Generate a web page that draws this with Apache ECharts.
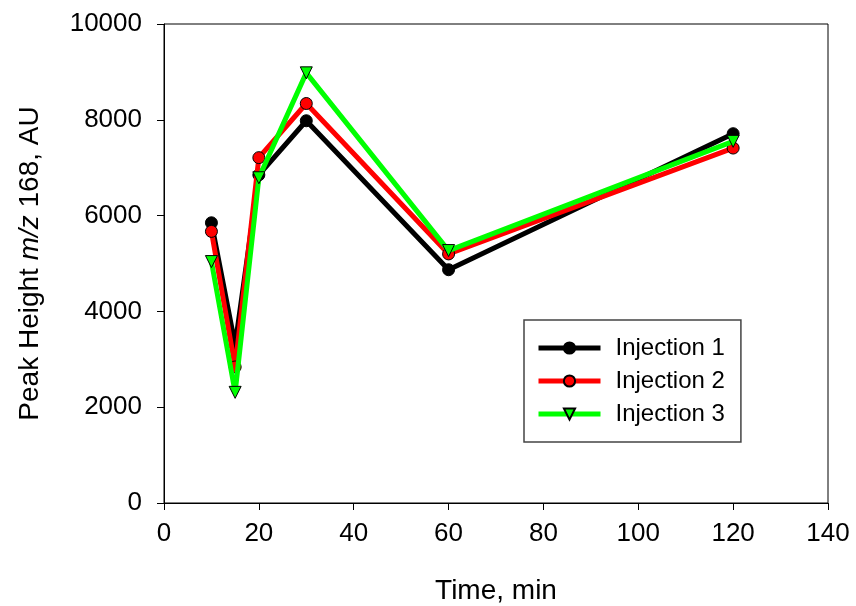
<!DOCTYPE html>
<html>
<head>
<meta charset="utf-8">
<script src="https://cdn.jsdelivr.net/npm/echarts@6/dist/echarts.min.js"></script>
<style>
html,body{margin:0;padding:0;background:#fff;}
#chart{width:856px;height:606px;}
</style>
</head>
<body>
<div id="chart"></div>
<script>
const times = [10, 15, 20, 30, 60, 120];
const injection1 = [5850, 3300, 6850, 7980, 4870, 7710];
const injection2 = [5670, 2840, 7210, 8340, 5200, 7410];
const injection3 = [5040, 2310, 6790, 8980, 5270, 7550];
const seriesNames = ['Injection 1', 'Injection 2', 'Injection 3'];
const xTicks = [0, 20, 40, 60, 80, 100, 120, 140];
const yTicks = [0, 2000, 4000, 6000, 8000, 10000];

const FONT = 'Liberation Sans, Arial, sans-serif';
const pairs = arr => times.map((t, i) => [t, arr[i]]);

const chart = echarts.init(document.getElementById('chart'), null, {renderer: 'canvas'});
chart.setOption({
  backgroundColor: '#fff',
  animation: false,
  grid: {left: 164, right: 28, top: 24, bottom: 103, outerBoundsMode: 'none', containLabel: false,
         show: true, borderColor: '#000', borderWidth: 1, backgroundColor: 'transparent'},
  legend: {
    orient: 'vertical',
    left: 524, top: 320,
    itemWidth: 62, itemHeight: 14, itemGap: 9,
    padding: [16, 16, 16, 12],
    borderColor: '#444', borderWidth: 1.5,
    lineStyle: {width: 5},
    textStyle: {fontFamily: FONT, fontSize: 24, color: '#000', padding: [0, 0, 0, 10]},
    data: seriesNames
  },
  xAxis: {
    type: 'value', min: xTicks[0], max: xTicks[xTicks.length - 1], interval: 20,
    name: 'Time, min', nameLocation: 'middle', nameGap: 74,
    nameTextStyle: {fontFamily: FONT, fontSize: 28, color: '#000'},
    axisLine: {show: true, lineStyle: {color: '#000', width: 1}},
    axisTick: {show: true, inside: false, length: 7, lineStyle: {color: '#000'}},
    axisLabel: {fontFamily: FONT, fontSize: 26, color: '#000', margin: 18, formatter: v => String(v)},
    splitLine: {show: false}
  },
  yAxis: {
    type: 'value', min: yTicks[0], max: yTicks[yTicks.length - 1], interval: 2000,
    name: 'Peak Height {i|m/z} 168, AU', nameLocation: 'middle', nameGap: 120, nameRotate: 90,
    nameTextStyle: {fontFamily: FONT, fontSize: 28, color: '#000',
      rich: {i: {fontFamily: FONT, fontSize: 28, fontStyle: 'italic', color: '#000'}}},
    axisLine: {show: true, lineStyle: {color: '#000', width: 1}},
    axisTick: {show: true, inside: false, length: 7, lineStyle: {color: '#000'}},
    axisLabel: {fontFamily: FONT, fontSize: 26, color: '#000', margin: 22, formatter: v => String(v)},
    splitLine: {show: false}
  },
  series: [
    {name: seriesNames[0], type: 'line', data: pairs(injection1), z: 2,
     lineStyle: {color: '#000', width: 5}, itemStyle: {color: '#000', borderColor: '#000', borderWidth: 1},
     symbol: 'circle', symbolSize: 12, showAllSymbol: true},
    {name: seriesNames[1], type: 'line', data: pairs(injection2), z: 3,
     lineStyle: {color: '#ff0000', width: 5}, itemStyle: {color: '#ff0000', borderColor: '#000', borderWidth: 1},
     symbol: 'circle', symbolSize: 12, showAllSymbol: true},
    {name: seriesNames[2], type: 'line', data: pairs(injection3), z: 4,
     lineStyle: {color: '#00ff00', width: 5}, itemStyle: {color: '#00ff00', borderColor: '#000', borderWidth: 1},
     symbol: 'triangle', symbolRotate: 180, symbolSize: 12, showAllSymbol: true}
  ]
});
</script>
</body>
</html>
